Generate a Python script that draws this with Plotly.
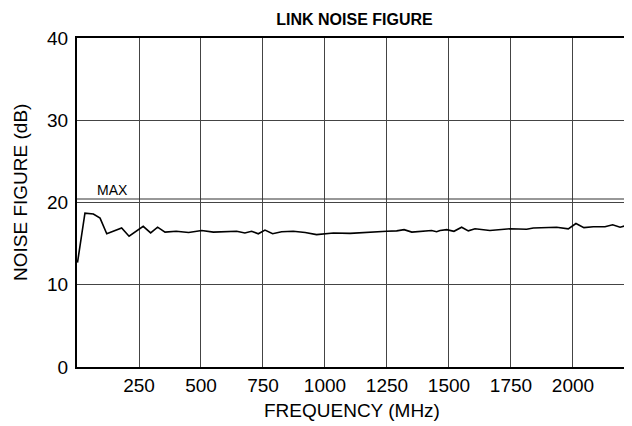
import plotly.graph_objects as go

# Frequency (MHz) and noise figure (dB)
freq_mhz = [2, 32, 66, 93, 120, 180, 210, 267, 297, 325, 355, 400, 450, 503, 550,
            600, 644, 677, 704, 731, 758, 789, 825, 872, 920, 966, 1034, 1101, 1168,
            1249, 1289, 1319, 1350, 1430, 1450, 1464, 1491, 1520, 1551, 1578, 1605,
            1665, 1746, 1813, 1840, 1934, 1981, 2012, 2044, 2082, 2129, 2160, 2190,
            2223, 2240]
noise_db = [12.7, 18.7, 18.6, 18.1, 16.2, 16.9, 15.9, 17.1, 16.3, 17.0, 16.4, 16.5, 16.35,
            16.6, 16.4, 16.5, 16.5, 16.3, 16.5, 16.2, 16.65, 16.2, 16.45, 16.5, 16.35,
            16.1, 16.3, 16.25, 16.4, 16.5, 16.55, 16.7, 16.4, 16.6, 16.45, 16.6, 16.7,
            16.5, 17.0, 16.55, 16.8, 16.6, 16.8, 16.75, 16.9, 17.0, 16.8, 17.45, 16.95,
            17.05, 17.05, 17.3, 17.0, 17.25, 17.2]

MAX_DB = 20.43
x_ticks = [250, 500, 750, 1000, 1250, 1500, 1750, 2000]
y_ticks = [0, 10, 20, 30, 40]

FONT = "Liberation Sans, Arial, sans-serif"

# the page body has an 8px margin; size the figure so the plot area lands
# where the reference has it
FIG_W, FIG_H = 624, 418

fig = go.Figure()
fig.add_trace(go.Scatter(x=freq_mhz, y=noise_db, mode="lines",
                         line=dict(color="black", width=1.6), showlegend=False,
                         hoverinfo="skip"))

fig.add_shape(type="line", xref="paper", yref="y", x0=0, x1=1, y0=MAX_DB, y1=MAX_DB,
              line=dict(color="#333", width=1.1))
fig.add_annotation(x=145, y=MAX_DB, xref="x", yref="y", text="MAX", showarrow=False,
                   yanchor="bottom", yshift=-1,
                   font=dict(family=FONT, size=14, color="black"))

# axis titles
fig.add_annotation(text="FREQUENCY (MHz)", xref="paper", yref="paper",
                   x=0.4955, y=-0.1322, showarrow=False, xanchor="center",
                   yanchor="middle", font=dict(family=FONT, size=19, color="black"))
fig.add_annotation(text="NOISE FIGURE (dB)", xref="paper", yref="paper",
                   x=-0.1009, y=0.529, showarrow=False, textangle=-90,
                   xanchor="center", yanchor="middle",
                   font=dict(family=FONT, size=19, color="black"))

fig.update_layout(
    width=FIG_W, height=FIG_H,
    margin=dict(l=69, r=0, t=30, b=59, autoexpand=False),
    paper_bgcolor="white", plot_bgcolor="white",
    font=dict(family=FONT, size=19, color="black"),
    title=dict(text="<b>LINK NOISE FIGURE</b>", xref="paper", x=0.5, xanchor="center",
               y=1 - 11.5 / FIG_H, yanchor="middle",
               font=dict(family=FONT, size=16, color="black")),
    xaxis=dict(range=[0, 2238], tickvals=x_ticks, ticktext=[str(v) for v in x_ticks],
               showgrid=True, gridcolor="#444", gridwidth=1.1,
               showline=True, linecolor="black", linewidth=2, mirror=True,
               ticks="", zeroline=False, automargin=False, ticklabelstandoff=0),
    yaxis=dict(range=[0, 40], tickvals=y_ticks, ticktext=[str(v) for v in y_ticks],
               showgrid=True, gridcolor="#444", gridwidth=1.1,
               showline=True, linecolor="black", linewidth=2, mirror=False,
               ticks="", zeroline=False, automargin=False, ticklabelstandoff=3),
)

fig.write_html("out.html")
